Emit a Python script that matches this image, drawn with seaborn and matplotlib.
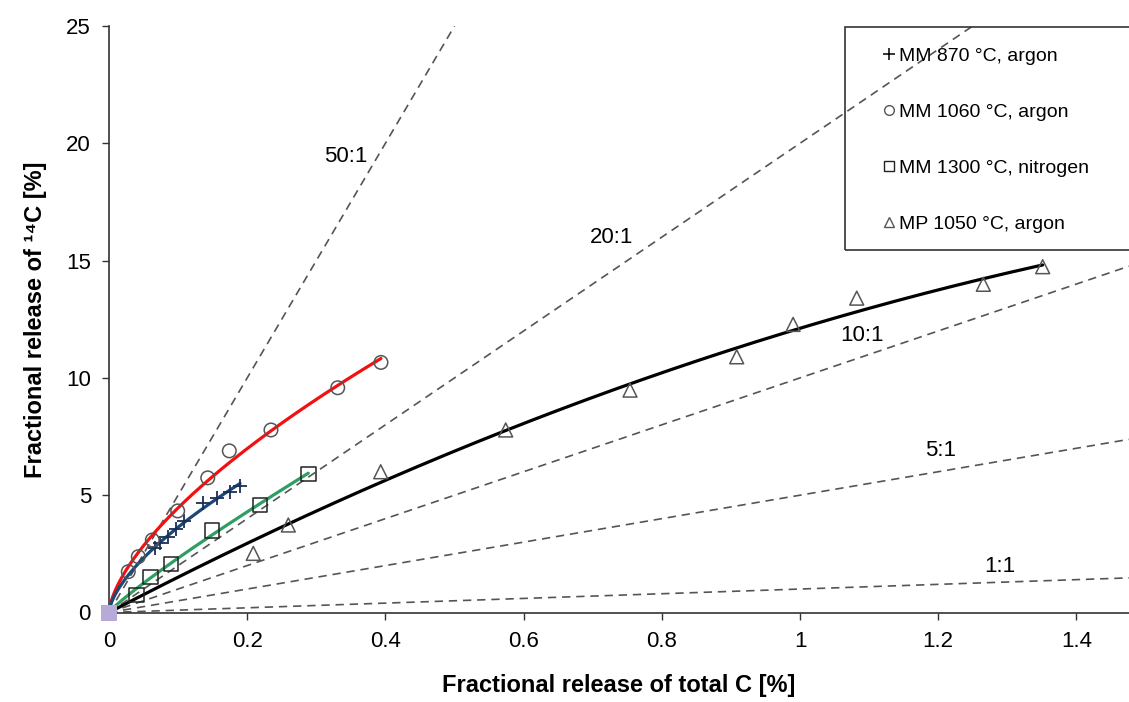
import numpy as np
import matplotlib
matplotlib.use("Agg")
import matplotlib.pyplot as plt
import seaborn as sns
from matplotlib.lines import Line2D
from matplotlib.patches import Rectangle

sns.set_style("ticks", {"text.color": "black", "axes.labelcolor": "black",
                        "xtick.color": "black", "ytick.color": "black"})
plt.rcParams["font.family"] = ["Liberation Sans", "DejaVu Sans"]

# MM 870 °C, argon
mm870_x = [0.0666, 0.0738, 0.0858, 0.0970, 0.1085, 0.1356, 0.1559, 0.1751, 0.1896]
mm870_y = [2.74, 2.95, 3.20, 3.54, 3.90, 4.68, 4.87, 5.15, 5.39]
# MM 1060 °C, argon
mm1060_x = [0.0279, 0.0424, 0.0627, 0.0994, 0.1429, 0.1741, 0.2344, 0.3310, 0.3936]
mm1060_y = [1.74, 2.38, 3.09, 4.33, 5.74, 6.89, 7.78, 9.58, 10.66]
# MM 1300 °C, nitrogen
mm1300_x = [0.0401, 0.0603, 0.0897, 0.1490, 0.2185, 0.2884]
mm1300_y = [0.75, 1.51, 2.06, 3.49, 4.59, 5.90]
# MP 1050 °C, argon
mp1050_x = [0.2088, 0.2595, 0.3932, 0.5741, 0.7540, 0.9084, 0.9900, 1.0821, 1.2653, 1.3512]
mp1050_y = [2.52, 3.73, 6.00, 7.78, 9.48, 10.90, 12.28, 13.40, 13.99, 14.74]

origin_x = [0.0]
origin_y = [0.0]

# reference ratio lines (14C : total C)
ratios = [50, 20, 10, 5, 1]
ratio_labels = ["50:1", "20:1", "10:1", "5:1", "1:1"]
ratio_label_x = [0.343, 0.728, 1.09, 1.203, 1.289]
ratio_label_y = [19.45, 16.0, 11.8, 6.9, 1.95]

legend_labels = ["MM 870 °C, argon", "MM 1060 °C, argon",
                 "MM 1300 °C, nitrogen", "MP 1050 °C, argon"]

x_ticks = [0, 0.2, 0.4, 0.6, 0.8, 1.0, 1.2, 1.4]
y_ticks = [0, 5, 10, 15, 20, 25]


def power_fit(x, y):
    # y = a*x^b, log fit weighted so residuals act like linear ones
    x = np.asarray(x)
    y = np.asarray(y)
    b, loga = np.polyfit(np.log(x), np.log(y), 1, w=y)
    xs = np.linspace(0, x.max(), 300)
    return xs, np.exp(loga) * xs ** b


def quad_fit(x, y):
    # y = a*x + b*x^2, forced through the origin
    x = np.asarray(x)
    A = np.column_stack([x, x ** 2])
    (a, b), *_ = np.linalg.lstsq(A, np.asarray(y), rcond=None)
    xs = np.linspace(0, x.max(), 300)
    return xs, a * xs + b * xs ** 2


fig = plt.figure(figsize=(11.29, 7.02), dpi=100)
ax = fig.add_axes([109 / 1129, 89.5 / 702, 1020 / 1129, 586.5 / 702])

# dashed ratio lines
for k in ratios:
    ax.axline((0, 0), slope=k, color="#555555", lw=1.2,
              dashes=(5, 3.5), zorder=1)
for lbl, lx, ly in zip(ratio_labels, ratio_label_x, ratio_label_y):
    ax.text(lx, ly, lbl, fontsize=16, ha="center", va="center", color="black")

# fitted curves
fx, fy = power_fit(mm1060_x, mm1060_y)
sns.lineplot(x=fx, y=fy, color="#f21111", lw=2.3, ax=ax, estimator=None, sort=False, zorder=3)
fx, fy = power_fit(mm870_x, mm870_y)
sns.lineplot(x=fx, y=fy, color="#1c4878", lw=2.3, ax=ax, estimator=None, sort=False, zorder=3)
fx, fy = power_fit(mm1300_x, mm1300_y)
sns.lineplot(x=fx, y=fy, color="#2f9e62", lw=2.3, ax=ax, estimator=None, sort=False, zorder=3)
fx, fy = quad_fit(mp1050_x, mp1050_y)
sns.lineplot(x=fx, y=fy, color="black", lw=2.3, ax=ax, estimator=None, sort=False, zorder=3)

# data points
sns.scatterplot(x=mm870_x, y=mm870_y, marker="+", s=110, color="#1a2f55",
                linewidth=1.3, ax=ax, zorder=4)
sns.scatterplot(x=mm1060_x, y=mm1060_y, marker="o", s=95, facecolor="none",
                edgecolor="#555555", linewidth=1.1, ax=ax, zorder=4)
sns.scatterplot(x=mm1300_x, y=mm1300_y, marker="s", s=110, facecolor="none",
                edgecolor="#222222", linewidth=1.1, ax=ax, zorder=4)
sns.scatterplot(x=mp1050_x, y=mp1050_y, marker="^", s=100, facecolor="none",
                edgecolor="#555555", linewidth=1.1, ax=ax, zorder=4)
sns.scatterplot(x=origin_x, y=origin_y, marker="s", s=120, color="#b9a9d9",
                linewidth=0, ax=ax, zorder=6, clip_on=False)

ax.set_xlim(0, 1020 / 691)
ax.set_ylim(0, 25)
ax.set_xticks(x_ticks)
ax.set_xticklabels([f"{t:g}" for t in x_ticks])
ax.set_yticks(y_ticks)
ax.tick_params(axis="both", direction="out", length=5, width=1,
               labelsize=16, color="#333333", labelcolor="black", pad=8)
sns.despine(ax=ax, top=True, right=True)
for side in ["left", "bottom"]:
    ax.spines[side].set_color("#333333")
    ax.spines[side].set_linewidth(1.2)

ax.set_xlabel("Fractional release of total C [%]", fontsize=17,
              fontweight="bold", labelpad=16, color="black")
ax.set_ylabel("Fractional release of ¹⁴C [%]", fontsize=17,
              fontweight="bold", labelpad=14, color="black")

# legend in a box that runs past the right edge
fig.add_artist(Rectangle((845 / 1129, 1 - 250 / 702), 300 / 1129, 223 / 702,
                         transform=fig.transFigure, fill=False,
                         ec="#333333", lw=1.2))
handles = [
    Line2D([], [], ls="none", marker="+", color="black", markersize=8, mew=1.1),
    Line2D([], [], ls="none", marker="o", mfc="none", mec="#555555", markersize=7, mew=1),
    Line2D([], [], ls="none", marker="s", mfc="none", mec="#222222", markersize=7, mew=1),
    Line2D([], [], ls="none", marker="^", mfc="none", mec="#555555", markersize=7, mew=1),
]
leg = fig.legend(handles, legend_labels, loc="upper left",
                 bbox_to_anchor=(882 / 1129, 1 - 47 / 702),
                 bbox_transform=fig.transFigure, frameon=False, fontsize=14,
                 handlelength=0.7, handletextpad=0.15, labelspacing=1.98,
                 borderpad=0, borderaxespad=0)
for t in leg.get_texts():
    t.set_color("black")

fig.savefig("out.png", dpi=100)
